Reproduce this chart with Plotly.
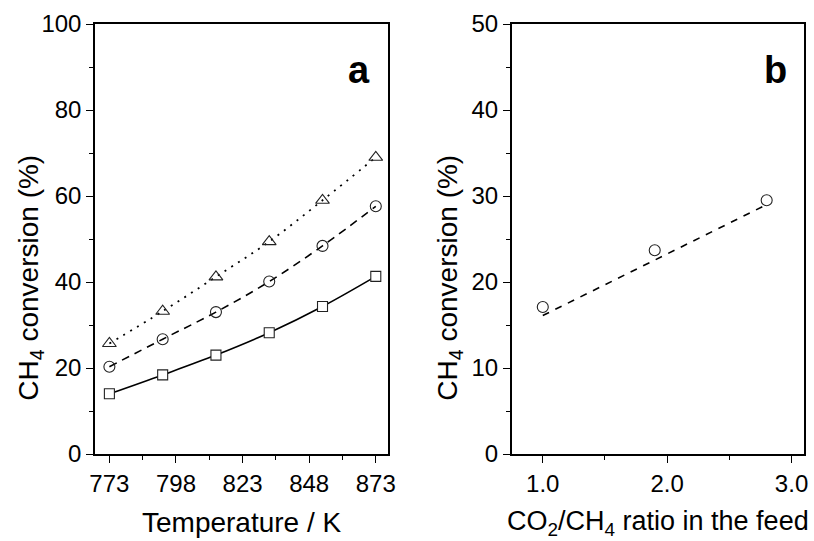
import plotly.graph_objects as go

# Panel a data
temperature_K = [773, 793, 813, 833, 853, 873]
conv_square = [14.0, 18.4, 23.0, 28.2, 34.3, 41.3]
conv_circle = [20.3, 26.7, 33.0, 40.1, 48.4, 57.6]
conv_triangle = [25.7, 33.2, 41.2, 49.4, 59.0, 69.0]

# Panel b data
ratio = [1.0, 1.9, 2.8]
conv_ratio = [17.1, 23.7, 29.5]
fit_ratio_x = [1.0, 2.8]
fit_ratio_y = [16.1, 29.0]

x_ticks_a = [773, 798, 823, 848, 873]

FONT = "Liberation Sans, Arial, sans-serif"
MK_LINE = dict(color="#222222", width=1.1)

fig = go.Figure()

# Panel a
fig.add_trace(go.Scatter(x=temperature_K, y=conv_square, mode="lines+markers",
                         line=dict(color="black", width=1.6, shape="spline"),
                         marker=dict(symbol="square", size=10, color="white", line=MK_LINE),
                         xaxis="x", yaxis="y"))
fig.add_trace(go.Scatter(x=temperature_K, y=conv_circle, mode="lines+markers",
                         line=dict(color="black", width=1.6, shape="spline", dash="8px,6px"),
                         marker=dict(symbol="circle", size=11, color="rgba(255,255,255,0)", line=MK_LINE),
                         xaxis="x", yaxis="y"))
fig.add_trace(go.Scatter(x=temperature_K, y=conv_triangle, mode="lines+markers",
                         line=dict(color="black", width=1.8, shape="spline", dash="2px,6px"),
                         marker=dict(symbol="triangle-up", size=12, color="rgba(255,255,255,0)", line=MK_LINE),
                         xaxis="x", yaxis="y"))

# Panel b
fig.add_trace(go.Scatter(x=fit_ratio_x, y=fit_ratio_y, mode="lines",
                         line=dict(color="black", width=1.6, dash="7px,7px"),
                         xaxis="x2", yaxis="y2"))
fig.add_trace(go.Scatter(x=ratio, y=conv_ratio, mode="markers",
                         marker=dict(symbol="circle", size=11, color="rgba(255,255,255,0)", line=MK_LINE),
                         xaxis="x2", yaxis="y2"))

MINOR = dict(ticks="outside", ticklen=4, tickcolor="black", tickwidth=1.3)
axis_common = dict(showline=True, linecolor="black", linewidth=1.5, mirror=True,
                   ticks="outside", ticklen=7, tickwidth=1.3, tickcolor="black",
                   showgrid=False, zeroline=False, automargin=False,
                   tickfont=dict(family=FONT, size=24, color="black"))

TITLE_FONT = dict(family=FONT, size=28, color="black")

fig.update_layout(
    width=814, height=541,
    margin=dict(l=95, r=10, t=24, b=87),
    paper_bgcolor="white", plot_bgcolor="white",
    showlegend=False,
    xaxis=dict(axis_common, domain=[0.0, 0.4137], range=[767.6, 877.7],
               tickvals=x_ticks_a, minor=dict(MINOR, dtick=12.5, tick0=773), anchor="y"),
    yaxis=dict(axis_common, domain=[0, 1], range=[0, 100], dtick=20,
               minor=dict(MINOR, dtick=10), anchor="x"),
    xaxis2=dict(axis_common, domain=[0.5877, 1.0], range=[0.75, 3.1],
                tick0=1, dtick=1, tickformat=".1f",
                minor=dict(MINOR, dtick=0.5), anchor="y2"),
    yaxis2=dict(axis_common, domain=[0, 1], range=[0, 50], dtick=10,
                minor=dict(MINOR, dtick=5), anchor="x2"),
    annotations=[
        dict(text="<b>a</b>", xref="x domain", yref="y domain", x=0.945, y=0.893,
             xanchor="right", yanchor="middle", showarrow=False,
             font=dict(family=FONT, size=38, color="black")),
        dict(text="<b>b</b>", xref="x2 domain", yref="y2 domain", x=0.949, y=0.893,
             xanchor="right", yanchor="middle", showarrow=False,
             font=dict(family=FONT, size=38, color="black")),
        dict(text="Temperature / K", xref="x domain", yref="paper", x=0.5, y=-0.16,
             xanchor="center", yanchor="middle", showarrow=False, font=TITLE_FONT),
        dict(text="CO<sub>2</sub>/CH<sub>4</sub> ratio in the feed", xref="x2 domain", yref="paper",
             x=0.5, y=-0.16, xanchor="center", yanchor="middle", showarrow=False,
             font=dict(TITLE_FONT, size=27)),
        dict(text="CH<sub>4</sub> conversion (%)", xref="paper", yref="paper", x=-0.0903, y=0.41,
             xanchor="center", yanchor="middle", textangle=-90, showarrow=False, font=TITLE_FONT),
        dict(text="CH<sub>4</sub> conversion (%)", xref="paper", yref="paper", x=0.5007, y=0.41,
             xanchor="center", yanchor="middle", textangle=-90, showarrow=False, font=TITLE_FONT),
    ],
)

fig.write_html("out.html", config={"displayModeBar": False},
               post_script="document.body.style.margin='0';document.body.style.overflow='hidden';")
